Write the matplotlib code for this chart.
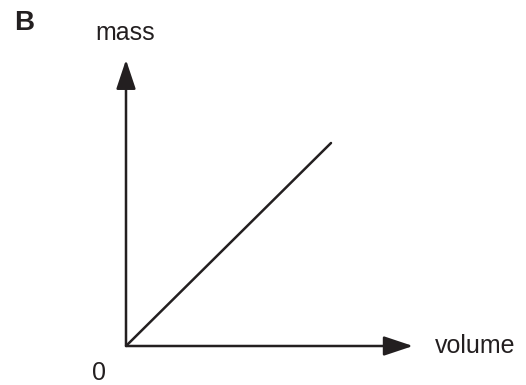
import matplotlib
matplotlib.use("Agg")
import matplotlib.pyplot as plt

# proportional line: mass against volume (arbitrary units)
volume = [0, 1]
mass = [0, 1]
x_label = "volume"
y_label = "mass"
origin_label = "0"
panel_label = "B"

W, H = 526, 385
fig = plt.figure(figsize=(W / 100, H / 100), dpi=100)

# axes placed so that the origin sits at pixel (126, 346)
unit_x = 205 / W
unit_y = 203 / H
ax = fig.add_axes([126 / W, 39 / H, 1.5 * unit_x, 1.5 * unit_y])
ax.set_xlim(0, 1.5)
ax.set_ylim(0, 1.5)
ax.axis("off")

ax.plot(volume, mass, color="#231f20", lw=1.8, solid_capstyle="round")

arrow = dict(arrowstyle="-|>,head_length=1.8,head_width=0.6",
             color="#231f20", lw=1.8, mutation_scale=10,
             shrinkA=0, shrinkB=0)
ax.annotate("", xy=(1.40, 0), xytext=(0, 0), arrowprops=arrow,
            annotation_clip=False)
ax.annotate("", xy=(0, 1.41), xytext=(0, 0), arrowprops=arrow,
            annotation_clip=False)

font = "Liberation Sans"
fig.text(435 / W, 1 - 346 / H, x_label, fontsize=18, family=font,
         color="#231f20", ha="left", va="center")
fig.text(125 / W, 1 - 33 / H, y_label, fontsize=18, family=font,
         color="#231f20", ha="center", va="center")
fig.text(99 / W, 1 - 373 / H, origin_label, fontsize=18, family=font,
         color="#231f20", ha="center", va="center")
fig.text(14 / W, 1 - 23 / H, panel_label, fontsize=20, family=font,
         weight="bold", color="#231f20", ha="left", va="center")

fig.savefig("out.png", dpi=100, facecolor="white")
